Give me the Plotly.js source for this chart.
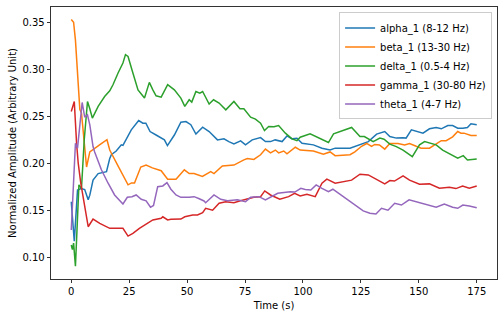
<!DOCTYPE html>
<html>
<head>
<meta charset="utf-8">
<script src="https://cdn.plot.ly/plotly-3.0.1.min.js"></script>
<style>html,body{margin:0;padding:0;background:#fff;}#chart{width:504px;height:317px;}</style>
</head>
<body>
<div id="chart"></div>
<script>
const seriesNames = ["alpha_1 (8-12 Hz)", "beta_1 (13-30 Hz)", "delta_1 (0.5-4 Hz)", "gamma_1 (30-80 Hz)", "theta_1 (4-7 Hz)"];
const seriesColors = ["#1f77b4", "#ff7f0e", "#2ca02c", "#d62728", "#9467bd"];

const alphaT = [0,1.3,2.7,4.3,5.8,7.3,8,9.4,11.6,13,15.2,16.6,17.3,19.4,21.6,22.3,24.5,25.9,29.1,30.9,32.2,34,36.6,38.8,40.2,41.5,44.5,47.3,49.5,51.6,53.8,56.7,59.5,63.1,65.9,68,70.2,73.1,75.2,78.1,81.7,83.8,86,88,91,93.1,95.3,97.4,99.6,104.5,108.2,111.7,113.9,120.3,124.6,128.2,131.8,135.3,137.5,140.3,143.2,144.5,146.8,149.6,151.8,154.6,157.5,159.7,162.5,164.6,166.8,169,171,172.5,175];
const alphaV = [0.159,0.117,0.1715,0.173,0.172,0.161,0.166,0.182,0.189,0.190,0.191,0.205,0.209,0.213,0.2195,0.219,0.230,0.2355,0.2454,0.2426,0.2426,0.2337,0.230,0.2267,0.2248,0.2188,0.230,0.2437,0.2443,0.241,0.231,0.2384,0.2337,0.2248,0.2259,0.223,0.2206,0.2238,0.2195,0.2248,0.2273,0.223,0.223,0.2248,0.223,0.229,0.2259,0.2266,0.2213,0.2195,0.216,0.214,0.216,0.216,0.2195,0.223,0.231,0.2337,0.2284,0.2267,0.227,0.2267,0.2355,0.2337,0.232,0.2366,0.238,0.2366,0.240,0.240,0.2373,0.2373,0.238,0.2419,0.2408];

const betaT = [0,1,1.8,2.7,3.7,4.4,5.5,6.6,8,10,12.5,15.4,16.6,20,24.5,26,27.3,30,32.3,35,38.8,41.6,45.2,48.8,50.9,53,56.6,60.2,61.6,65.2,70.2,74.5,76,78.8,81.7,83.8,86,88.1,89.5,91.7,93.1,96.7,98.8,104.5,108.8,111.7,113.9,120.3,122.4,125.3,127.5,129.6,131,133,135.3,137.5,141,143.9,146,148.9,151,154.6,157.5,159.7,161.8,164.6,166.8,168.2,169.5,171,172.5,175];
const betaV = [0.353,0.350,0.331,0.292,0.257,0.2535,0.222,0.196,0.212,0.216,0.220,0.225,0.214,0.198,0.177,0.179,0.179,0.196,0.198,0.195,0.192,0.183,0.183,0.193,0.189,0.189,0.186,0.191,0.189,0.197,0.198,0.2035,0.205,0.204,0.209,0.215,0.211,0.214,0.211,0.213,0.210,0.217,0.214,0.213,0.2096,0.212,0.208,0.209,0.212,0.218,0.221,0.218,0.220,0.2195,0.215,0.221,0.221,0.2195,0.221,0.218,0.216,0.216,0.221,0.224,0.224,0.228,0.2337,0.232,0.232,0.231,0.2295,0.2295];

const deltaT = [0,0.5,1,1.8,3.3,4.4,5.6,7,8,9.1,11.6,14.4,16.6,18,20.2,22.3,23.4,24.5,26.6,28.8,31.6,33.7,35.2,36.6,38.8,41.6,44.5,47.3,49,50.9,52,53.8,55.5,56.7,59.5,61.4,63.8,66.7,70.2,72.8,74.5,77.4,79.5,81.7,83.4,85.2,87.5,89.5,92.4,95.3,97.4,98.8,103.1,105.3,107.4,111,113.2,116,121,124.6,126.5,130.3,133.2,135,137.5,140.3,143.2,147.2,150.3,152.5,154.6,157.5,160.3,164,166.8,169.2,171,175];
const deltaV = [0.113,0.108,0.115,0.0905,0.177,0.173,0.225,0.2657,0.258,0.248,0.2604,0.271,0.277,0.2835,0.296,0.3066,0.3155,0.3136,0.296,0.278,0.2693,0.286,0.278,0.2717,0.2703,0.2835,0.278,0.2693,0.2604,0.2675,0.265,0.2763,0.2746,0.2763,0.263,0.2675,0.264,0.2568,0.2657,0.2579,0.258,0.249,0.2469,0.2426,0.2348,0.239,0.2387,0.240,0.232,0.2259,0.224,0.2277,0.2312,0.2284,0.2259,0.222,0.2312,0.2337,0.238,0.2284,0.2284,0.223,0.2267,0.2255,0.2203,0.2177,0.214,0.207,0.2195,0.223,0.2218,0.2195,0.214,0.209,0.2053,0.208,0.2035,0.2046];

const gammaT = [0,1.3,2.3,3,4.1,5.8,7.3,9.4,12.3,16.6,22.3,24.5,26.6,29.4,33,35.2,38.8,39.5,41.6,43,47.3,49,52.4,54.5,56.7,58,61,63.8,66.7,70.2,73,76,78.8,81.7,83.5,86,90,93.8,96.4,98.8,101.7,105.3,108.2,110.3,113.9,121,124.6,128.2,131,135.3,137.5,139.5,143.2,146,150.3,154.6,158.9,163.2,166,168.9,171.8,175];
const gammaV = [0.255,0.2657,0.221,0.200,0.1787,0.1537,0.1324,0.1406,0.136,0.1307,0.1307,0.1225,0.1254,0.1307,0.136,0.1396,0.1414,0.143,0.1396,0.1403,0.1406,0.143,0.1449,0.1449,0.1473,0.152,0.150,0.1574,0.159,0.158,0.160,0.1616,0.1637,0.1644,0.1705,0.1662,0.1616,0.1644,0.168,0.1651,0.167,0.1644,0.1787,0.183,0.1787,0.182,0.1883,0.1875,0.184,0.178,0.1815,0.181,0.1865,0.182,0.1776,0.178,0.1733,0.1744,0.173,0.1758,0.1733,0.1758];

const thetaT = [0,1.8,2.7,4.7,5.8,7,8,9.4,10.1,13,15.9,18.7,22.3,24.2,26.2,28,30.2,32.3,34.2,35.5,37.3,39.5,41.3,43,45.2,47.3,50.9,53,55,57.3,58,61.6,64.5,67.4,71.7,75.2,77.4,81,83.8,86.7,89.1,94.5,96.5,99.1,101,103.4,105.7,108.2,111,112.9,117.4,121.7,126,128.9,131.5,133.9,136.7,139.6,142.5,145.8,148.9,153.2,157.5,161,164.6,166.8,169,171.8,175];
const thetaV = [0.129,0.2213,0.216,0.2646,0.249,0.2515,0.2408,0.2177,0.212,0.193,0.1787,0.1662,0.1566,0.1637,0.1644,0.1662,0.1616,0.160,0.1531,0.155,0.175,0.1758,0.1793,0.1723,0.1662,0.1637,0.1637,0.1644,0.1625,0.1598,0.158,0.1662,0.1616,0.160,0.161,0.159,0.1637,0.1644,0.161,0.1651,0.168,0.1697,0.1693,0.1733,0.172,0.1715,0.1769,0.1733,0.1697,0.1723,0.1644,0.1566,0.1492,0.1467,0.146,0.152,0.150,0.1574,0.1555,0.161,0.159,0.1555,0.1531,0.1566,0.1531,0.152,0.1555,0.1545,0.1527];

const xTickVals = [0,25,50,75,100,125,150,175];
const yTickVals = [0.10,0.15,0.20,0.25,0.30,0.35];

const times = [alphaT, betaT, deltaT, gammaT, thetaT];
const values = [alphaV, betaV, deltaV, gammaV, thetaV];

const traces = seriesNames.map((name, i) => ({
  x: times[i], y: values[i], name: name, type: 'scatter', mode: 'lines',
  line: {color: seriesColors[i], width: 1.5}
}));

const axisCommon = {
  showgrid: false, zeroline: false, showline: true, mirror: true,
  linecolor: '#000', linewidth: 0.8, ticks: 'outside', ticklen: 3.5,
  tickwidth: 0.8, tickcolor: '#000', tickfont: {size: 10, color: '#000'},
  automargin: false
};

const layout = {
  width: 504, height: 317,
  margin: {l: 51, r: 7, t: 7, b: 38},
  paper_bgcolor: '#fff', plot_bgcolor: '#fff',
  font: {family: 'DejaVu Sans, sans-serif', size: 10, color: '#000'},
  xaxis: Object.assign({}, axisCommon, {
    range: [-8.75, 183.75], tickvals: xTickVals, ticktext: xTickVals.map(String),
    title: {text: 'Time (s)', font: {size: 10}, standoff: 5}
  }),
  yaxis: Object.assign({}, axisCommon, {
    range: [0.0768, 0.3662], tickvals: yTickVals, ticktext: yTickVals.map(v => v.toFixed(2)),
    title: {text: 'Normalized Amplitude (Arbitrary Unit)', font: {size: 10}, standoff: 3}
  }),
  legend: {
    x: 0.989, y: 0.98, xanchor: 'right', yanchor: 'top',
    bgcolor: 'rgba(255,255,255,0.8)', bordercolor: '#cccccc', borderwidth: 1,
    font: {size: 10}, tracegroupgap: 0, itemwidth: 30
  },
  showlegend: true
};

Plotly.newPlot('chart', traces, layout, {staticPlot: true, displayModeBar: false});
</script>
</body>
</html>
